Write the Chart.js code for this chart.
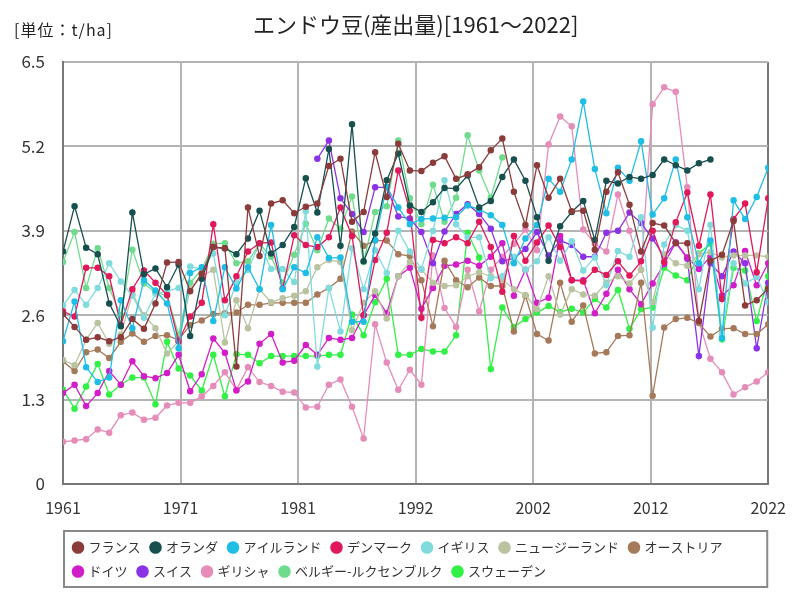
<!DOCTYPE html>
<html>
<head>
<meta charset="utf-8">
<script src="https://cdn.jsdelivr.net/npm/chart.js@4/dist/chart.umd.min.js"></script>
<style>
  html, body { margin: 0; padding: 0; background: #fff; }
  #wrap { width: 800px; height: 600px; }
</style>
</head>
<body>
<div id="wrap"><canvas id="chart" width="800" height="600"></canvas></div>
<script>
const years = [];
for (let y = 1961; y <= 2022; y++) years.push(y);

const yTicks = [0, 1.3, 2.6, 3.9, 5.2, 6.5];

const france = [2.62,2.42,2.22,2.26,2.20,2.26,2.54,2.39,2.78,3.41,3.42,2.97,3.24,3.65,3.63,1.81,4.26,3.51,4.32,4.37,4.17,4.27,4.32,4.90,5.01,4.04,4.19,5.11,4.42,5.24,4.83,4.82,4.95,5.05,4.70,4.77,4.88,5.14,5.32,4.50,3.99,4.91,4.41,4.70,4.20,4.21,3.61,4.50,4.80,4.30,3.58,4.02,3.98,3.71,3.71,2.51,3.44,3.53,4.05,2.75,2.83,3.01];
const netherlands = [3.58,4.28,3.64,3.54,2.78,2.43,4.18,3.23,3.32,3.03,3.38,2.28,3.16,3.65,3.63,3.54,3.78,4.21,3.55,3.68,3.96,4.71,4.18,5.16,3.67,5.54,3.43,3.86,4.68,5.09,4.29,4.19,4.34,4.56,4.55,4.75,4.26,4.36,4.73,5.00,4.67,4.11,3.44,3.97,4.19,4.36,3.76,4.67,4.63,4.73,4.70,4.76,5.00,4.91,4.83,4.94,5.00,null,null,null,null,null];
const ireland = [2.20,2.81,1.80,1.57,1.64,2.83,2.40,3.14,2.98,2.78,2.09,3.25,3.34,2.51,3.34,3.01,3.34,3.00,3.99,3.00,3.34,3.25,3.80,3.48,3.49,2.50,2.50,3.76,4.58,4.26,4.00,4.08,4.09,4.10,4.11,4.29,4.23,4.14,3.99,3.40,3.78,3.99,4.70,4.50,5.00,5.89,4.85,4.17,4.87,4.67,5.28,4.15,4.40,5.00,4.11,3.40,3.75,2.25,4.37,4.08,4.42,4.87];
const denmark = [2.66,2.58,3.33,3.33,3.20,2.45,3.00,3.29,3.10,2.91,2.20,2.58,2.79,4.00,2.83,3.20,3.58,3.71,3.72,3.01,3.83,3.68,3.65,3.80,4.26,3.82,2.60,3.45,3.87,4.83,4.21,2.56,3.76,3.71,3.80,3.71,4.04,3.65,2.96,3.82,3.44,3.72,3.98,3.65,3.14,3.12,3.30,3.22,3.43,3.21,3.43,3.90,3.42,4.03,4.49,3.67,4.46,2.85,4.08,4.32,3.26,4.40];
const britain = [2.75,2.99,2.76,3.02,3.40,3.12,2.90,2.56,2.93,2.97,3.02,3.35,3.31,3.55,2.60,3.10,3.30,3.70,3.31,3.31,3.11,4.20,1.81,3.02,2.35,3.63,3.00,3.60,3.25,3.90,3.58,3.31,3.90,4.68,4.00,3.80,3.80,3.17,3.20,3.50,3.30,3.43,3.80,3.44,3.74,3.29,3.49,3.06,3.59,3.50,4.11,2.41,3.69,3.99,3.90,3.00,3.99,2.32,3.40,3.09,3.19,2.80];
const newZealand = [1.91,1.83,2.22,2.48,2.16,2.30,2.93,2.60,2.40,2.01,2.20,3.00,3.20,3.30,2.18,2.83,2.40,3.00,2.80,2.86,2.90,2.97,3.34,3.45,3.42,2.37,2.79,2.97,2.55,3.20,3.42,3.30,3.10,3.05,3.06,3.20,3.26,3.20,3.15,3.00,2.91,2.69,3.20,2.61,3.00,2.92,2.90,3.10,3.20,3.09,3.30,2.80,3.54,3.40,3.36,3.54,3.57,3.49,3.52,3.52,3.52,3.50];
const austria = [1.89,1.74,2.03,2.07,1.94,2.19,2.32,2.19,2.28,2.29,2.22,2.45,2.52,2.62,2.63,2.64,2.76,2.76,2.79,2.79,2.79,2.79,2.92,3.02,3.16,3.89,3.67,3.75,3.75,3.54,3.51,3.14,2.43,3.44,3.14,3.03,3.18,3.05,3.05,2.35,2.90,2.31,2.21,3.10,2.50,2.75,2.01,2.03,2.28,2.29,3.10,1.36,2.41,2.54,2.56,2.48,2.27,2.39,2.40,2.31,2.31,2.46];
const germany = [1.40,1.53,1.20,1.40,1.74,1.53,1.89,1.66,1.63,1.71,1.99,1.43,1.69,2.24,2.02,1.44,1.58,2.16,2.31,1.87,1.90,2.14,1.99,2.25,2.22,2.25,2.60,2.91,2.63,3.20,3.33,2.70,3.02,3.36,3.38,3.44,3.36,3.50,3.71,2.90,3.30,2.79,2.87,3.82,3.14,3.14,2.63,2.93,3.30,3.00,2.77,3.09,3.39,3.72,3.49,3.31,3.50,2.90,3.06,3.59,3.06,3.40];
const switzerland = [null,null,null,null,null,null,null,null,null,null,null,null,null,null,null,null,null,null,null,null,null,null,5.01,5.29,4.40,4.16,3.88,4.57,4.57,4.12,4.09,3.88,3.40,3.89,4.16,4.31,4.16,3.93,3.43,3.48,3.62,3.88,3.52,3.75,3.68,3.50,3.50,3.87,3.90,4.18,4.02,3.78,3.50,3.72,3.47,1.97,3.40,3.20,3.58,3.40,2.09,3.10];
const greece = [0.65,0.67,0.69,0.84,0.79,1.06,1.10,0.99,1.02,1.21,1.25,1.25,1.35,1.51,1.72,1.45,1.80,1.57,1.51,1.42,1.41,1.18,1.19,1.53,1.61,1.19,0.70,2.46,1.87,1.45,1.76,1.53,3.52,2.71,2.42,3.30,2.66,3.30,3.50,3.70,3.92,3.60,5.23,5.66,5.51,3.92,3.70,3.58,4.46,3.90,3.30,5.85,6.11,6.04,4.57,2.50,1.93,1.72,1.38,1.49,1.58,1.72];
const belgiumLux = [3.42,3.88,3.02,3.63,3.02,2.60,3.61,3.09,2.95,2.90,2.30,3.10,3.30,3.70,3.71,3.40,3.43,3.70,3.50,3.10,3.53,4.01,3.60,4.09,3.93,4.43,3.42,4.19,4.28,5.29,4.40,4.00,4.61,4.04,4.41,5.37,4.83,4.41,5.03,null,null,null,null,null,null,null,null,null,null,null,null,null,null,null,null,null,null,null,null,null,null,null];
const sweden = [1.45,1.16,1.50,1.85,1.38,1.53,1.64,1.64,1.23,2.19,1.78,1.67,1.44,1.99,1.35,2.00,1.99,1.86,1.97,1.97,1.97,1.97,1.97,1.99,1.99,2.61,2.29,2.80,3.16,1.99,1.99,2.08,2.04,2.04,2.29,3.87,3.49,1.77,2.72,2.42,2.54,2.64,2.74,2.65,2.70,2.64,2.85,2.72,2.99,2.39,2.69,2.72,3.33,3.21,3.14,3.55,3.70,2.23,3.33,3.29,2.51,3.20];

const seriesNames = ['フランス','オランダ','アイルランド','デンマーク','イギリス','ニュージーランド','オーストリア','ドイツ','スイス','ギリシャ','ベルギー-ルクセンブルク','スウェーデン'];
const seriesValues = [france, netherlands, ireland, denmark, britain, newZealand, austria, germany, switzerland, greece, belgiumLux, sweden];
const seriesColors = ['#8c3b3b','#17504f','#1ebee6','#e0195a','#80dcdc','#b9c3a0','#a57a5a','#d21ec8','#8c32e6','#e68cb9','#6edc8c','#32f046'];

const FONT = '"Noto Sans CJK JP", "Noto Sans", sans-serif';

// legend box lines up with the plot area, title + unit label, legend frame
const decor = {
  id: 'decor',
  afterLayout(chart) {
    const lg = chart.legend;
    lg.left = chart.chartArea.left;
    lg.right = chart.chartArea.right;
    lg.width = lg.right - lg.left;
  },
  afterDraw(chart) {
    const ctx = chart.ctx;
    const ca = chart.chartArea;
    ctx.save();
    ctx.fillStyle = '#222';
    ctx.textBaseline = 'middle';
    ctx.font = '22px ' + FONT;
    ctx.textAlign = 'center';
    ctx.fillText('エンドウ豆(産出量)[1961～2022]', (ca.left + ca.right) / 2, 25);
    ctx.font = '16px ' + FONT;
    ctx.textAlign = 'left';
    ctx.letterSpacing = '1px';
    ctx.fillText('[単位：t/ha]', 14, 30);
    ctx.letterSpacing = '0px';
    const lg = chart.legend;
    ctx.strokeStyle = '#888';
    ctx.lineWidth = 2;
    ctx.strokeRect(lg.left + 1, lg.top + 1, lg.width - 2, lg.height - 2);
    ctx.restore();
  }
};

const ctx = document.getElementById('chart').getContext('2d');
new Chart(ctx, {
  type: 'line',
  data: {
    datasets: seriesNames.map((name, k) => ({
      label: name,
      data: years.map((yr, i) => ({ x: yr, y: seriesValues[k][i] })),
      borderColor: seriesColors[k],
      backgroundColor: seriesColors[k],
      borderWidth: 1.3,
      pointRadius: 2.6,
      pointHoverRadius: 3,
      spanGaps: false,
      tension: 0,
    })),
  },
  options: {
    responsive: false,
    animation: false,
    layout: { padding: { left: 0, right: 29, top: 62, bottom: 12 } },
    plugins: {
      title: { display: false },
      tooltip: { enabled: false },
      legend: {
        position: 'bottom',
        align: 'start',
        labels: {
          usePointStyle: true,
          pointStyle: 'circle',
          boxWidth: 8,
          boxHeight: 8,
          padding: 11,
          color: '#333',
          font: { family: FONT, size: 13 },
        },
      },
    },
    scales: {
      x: {
        type: 'linear',
        min: 1961,
        max: 2022,
        afterBuildTicks: s => { s.ticks = [0,1,2,3,4,5,6].map(i => ({ value: 1961 + i * 61 / 6 })); },
        afterFit: s => { s.height = 46; },
        ticks: {
          callback: v => String(Math.round(v)),
          color: '#333',
          font: { family: FONT, size: 16 },
          padding: 14,
          maxRotation: 0,
        },
        grid: {
          color: c => (c.index === 6 ? '#777' : '#b4b4b4'),
          lineWidth: 2,
          drawTicks: false,
        },
        border: { color: '#777', width: 2 },
      },
      y: {
        min: 0,
        max: 6.5,
        afterBuildTicks: s => { s.ticks = yTicks.map(v => ({ value: v })); },
        afterFit: s => { s.width = 63; },
        ticks: {
          callback: v => (v === 0 ? '0' : v.toFixed(1)),
          color: '#333',
          font: { family: FONT, size: 17 },
          padding: 18,
        },
        grid: { color: '#b4b4b4', lineWidth: 2, drawTicks: false },
        border: { color: '#777', width: 2 },
      },
    },
  },
  plugins: [decor],
});
</script>
</body>
</html>
